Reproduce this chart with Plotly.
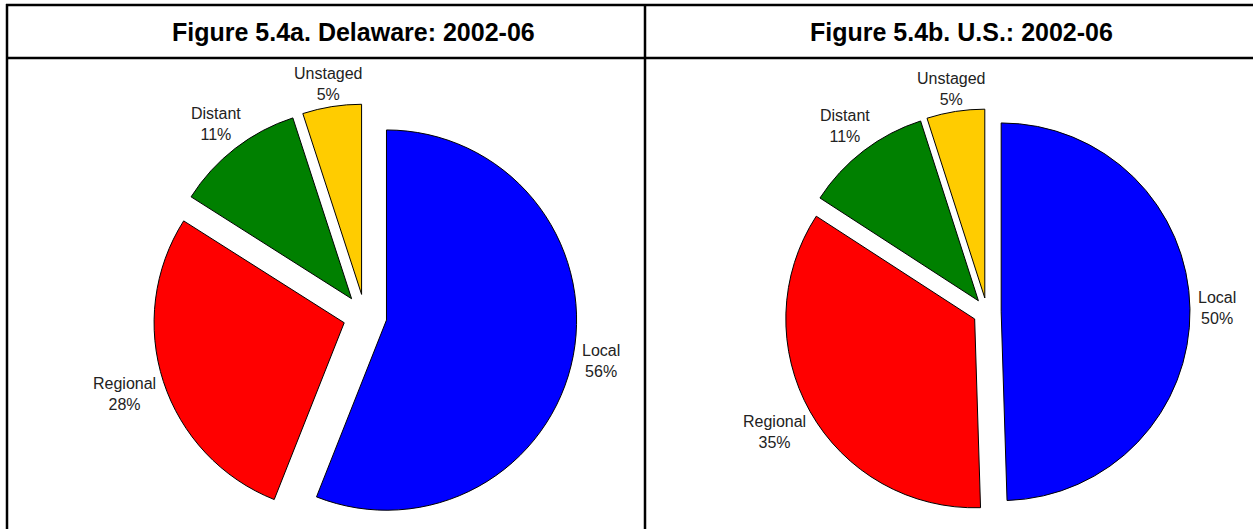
import math
import plotly.graph_objects as go

W, H = 1253, 529

categories = ["Local", "Regional", "Distant", "Unstaged"]
delaware_values = [56, 28, 11, 5]
us_values = [50, 35, 11, 5]
colors = ["#0000FF", "#FF0000", "#008000", "#FFCC00"]
titles = ["Figure 5.4a. Delaware: 2002-06", "Figure 5.4b. U.S.: 2002-06"]

FONT = "Liberation Sans, Arial, sans-serif"
LABEL_SIZE = 16

# approximate Arial advance widths (em) used to size the label boxes
CHAR_W = {"L": .556, "o": .556, "c": .5, "a": .556, "l": .222, "R": .722, "e": .556,
          "g": .556, "i": .222, "n": .556, "D": .722, "s": .5, "t": .278, "U": .722,
          "d": .556, "%": .889}


def text_width(s, size):
    return size * sum(CHAR_W.get(ch, .556) for ch in s)


def px_x(x):
    return x / W


def px_y(y):
    return 1 - y / H


def pie(values, box, pull):
    x0, x1, y0, y1 = box
    return go.Pie(
        labels=categories,
        values=values,
        textinfo="none",
        sort=False,
        direction="clockwise",
        rotation=0,
        pull=[pull] * len(values),
        marker=dict(colors=colors, line=dict(color="black", width=1)),
        domain=dict(x=[px_x(x0), px_x(x1)], y=[px_y(y1), px_y(y0)]),
        showlegend=False,
        hoverinfo="label+percent",
    )


def slice_labels(values, box, pull, gap=8, half_h=10):
    """Place each label outside its slice, along the slice's mid-angle."""
    x0, x1, y0, y1 = box
    cx, cy = (x0 + x1) / 2, (y0 + y1) / 2
    r = min(x1 - x0, y1 - y0) / (2 + 2 * pull)
    total = sum(values)
    cum = 0
    out = []
    for cat, v in zip(categories, values):
        mid = (cum + v / 2) / total * 2 * math.pi
        cum += v
        ux, uy = math.sin(mid), -math.cos(mid)
        w = max(text_width(cat, LABEL_SIZE), text_width(f"{v}%", LABEL_SIZE))
        dist = r * (1 + pull) + gap + abs(ux) * w / 2 + abs(uy) * half_h
        lx, ly = cx + ux * dist, cy + uy * dist
        out.append(dict(
            text=f"{cat}<br>{v}%", x=px_x(lx), y=px_y(ly), xref="paper", yref="paper",
            showarrow=False, xanchor="center", yanchor="middle", align="center",
            font=dict(family=FONT, size=LABEL_SIZE, color="#222222"),
        ))
    return out


left_box = (153, 577, 104, 528)
right_box = (784, 1190, 109, 515)
left_pull, right_pull = 0.115, 0.075

fig = go.Figure()
fig.add_trace(pie(delaware_values, left_box, left_pull))
fig.add_trace(pie(us_values, right_box, right_pull))

line = dict(color="black", width=2.5)
shapes = [
    dict(type="line", xref="paper", yref="paper", x0=px_x(7), x1=px_x(7), y0=px_y(4), y1=px_y(H + 2), line=line),
    dict(type="line", xref="paper", yref="paper", x0=px_x(645), x1=px_x(645), y0=px_y(4), y1=px_y(H + 2), line=line),
    dict(type="line", xref="paper", yref="paper", x0=px_x(6), x1=px_x(W + 2), y0=px_y(5), y1=px_y(5), line=line),
    dict(type="line", xref="paper", yref="paper", x0=px_x(6), x1=px_x(W + 2), y0=px_y(58), y1=px_y(58), line=line),
]

annotations = [
    dict(text=f"<b>{titles[0]}</b>", x=px_x(353), y=px_y(32), xref="paper", yref="paper",
         showarrow=False, xanchor="center", yanchor="middle",
         font=dict(family=FONT, size=25, color="black")),
    dict(text=f"<b>{titles[1]}</b>", x=px_x(961), y=px_y(32), xref="paper", yref="paper",
         showarrow=False, xanchor="center", yanchor="middle",
         font=dict(family=FONT, size=25, color="black")),
]
annotations += slice_labels(delaware_values, left_box, left_pull)
annotations += slice_labels(us_values, right_box, right_pull)

fig.update_layout(
    width=W,
    height=H,
    margin=dict(l=0, r=0, t=0, b=0),
    paper_bgcolor="white",
    plot_bgcolor="white",
    shapes=shapes,
    annotations=annotations,
)

fig.write_html(
    "out.html",
    config={"displayModeBar": False},
    post_script="document.body.style.margin='0';document.body.style.overflow='hidden';",
)
